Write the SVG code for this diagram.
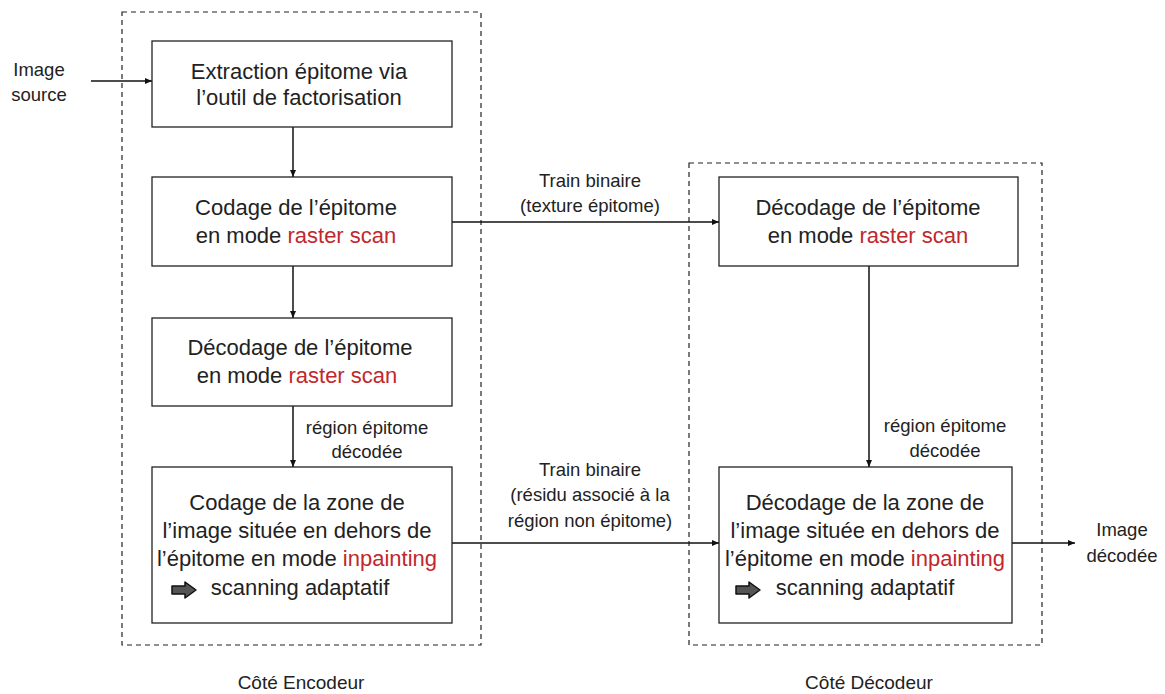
<svg xmlns="http://www.w3.org/2000/svg" width="1165" height="694" viewBox="0 0 1165 694">
<style>
text{font-family:"Liberation Sans",Arial,sans-serif;fill:#222}
.bt{font-size:22px;text-anchor:middle}
.lb{font-size:18.5px;text-anchor:middle}
.cap{font-size:19px;text-anchor:middle}
.red{fill:#c0282d}
.box{fill:#fff;stroke:#222;stroke-width:1.3}
.dash{fill:none;stroke:#222;stroke-width:1.2;stroke-dasharray:5,4}
.con{fill:none;stroke:#111;stroke-width:1.5;marker-end:url(#ah)}
.ico{fill:#555;stroke:#111;stroke-width:1.5;stroke-linejoin:round}
</style>
<defs>
<marker id="ah" markerWidth="8" markerHeight="8" refX="7" refY="4" orient="auto" markerUnits="userSpaceOnUse">
<path d="M0,1 L7,4 L0,7 Z" fill="#111"/>
</marker>
</defs>
<rect width="1165" height="694" fill="#fff"/>
<g id="encoder-zone">
<rect class="dash" x="122" y="12" width="359" height="633"/>
<text class="cap" x="301" y="689">Côté Encodeur</text>
</g>
<g id="decoder-zone">
<rect class="dash" x="689" y="163" width="353" height="482"/>
<text class="cap" x="869" y="689">Côté Décodeur</text>
</g>
<g id="connectors">
<line class="con" x1="91" y1="81" x2="152" y2="81"/>
<line class="con" x1="293" y1="127" x2="293" y2="177"/>
<line class="con" x1="293" y1="266" x2="293" y2="318"/>
<line class="con" x1="293" y1="406" x2="293" y2="467"/>
<line class="con" x1="452" y1="222" x2="719" y2="222"/>
<line class="con" x1="452" y1="543" x2="719" y2="543"/>
<line class="con" x1="869" y1="266" x2="869" y2="467"/>
<line class="con" x1="1012" y1="543" x2="1075" y2="543"/>
<text class="lb" x="590" y="187">Train binaire</text>
<text class="lb" x="590" y="212">(texture épitome)</text>
<text class="lb" x="367" y="434">région épitome</text>
<text class="lb" x="367" y="458">décodée</text>
<text class="lb" x="945" y="432">région épitome</text>
<text class="lb" x="945" y="457">décodée</text>
<text class="lb" x="590" y="476">Train binaire</text>
<text class="lb" x="590" y="501">(résidu associé à la</text>
<text class="lb" x="590" y="527">région non épitome)</text>
</g>
<g id="image-source">
<text class="lb" x="39" y="76">Image</text>
<text class="lb" x="39" y="101">source</text>
</g>
<g id="image-decodee">
<text class="lb" x="1122" y="536">Image</text>
<text class="lb" x="1122" y="562">décodée</text>
</g>
<g id="enc-extraction">
<rect class="box" x="152" y="41" width="300" height="86"/>
<text class="bt" x="299" y="79">Extraction épitome via</text>
<text class="bt" x="299" y="105">l’outil de factorisation</text>
</g>
<g id="enc-codage-epitome">
<rect class="box" x="152" y="177" width="300" height="89"/>
<text class="bt" x="296" y="215">Codage de l’épitome</text>
<text class="bt" x="296" y="243">en mode <tspan class="red">raster scan</tspan></text>
</g>
<g id="enc-decodage-epitome">
<rect class="box" x="152" y="318" width="300" height="88"/>
<text class="bt" x="300" y="355">Décodage de l’épitome</text>
<text class="bt" x="297" y="383">en mode <tspan class="red">raster scan</tspan></text>
</g>
<g id="enc-codage-zone">
<rect class="box" x="152" y="467" width="300" height="156"/>
<text class="bt" x="297" y="510">Codage de la zone de</text>
<text class="bt" x="297" y="538">l’image située en dehors de</text>
<text class="bt" x="297" y="566">l’épitome en mode <tspan class="red">inpainting</tspan></text>
<path class="ico" d="M172,586 H185 V582 L196,590 L185,598 V594 H172 Z"/>
<text class="bt" x="300" y="595">scanning adaptatif</text>
</g>
<g id="dec-decodage-epitome">
<rect class="box" x="719" y="177" width="299" height="89"/>
<text class="bt" x="868" y="215">Décodage de l’épitome</text>
<text class="bt" x="868" y="243">en mode <tspan class="red">raster scan</tspan></text>
</g>
<g id="dec-decodage-zone">
<rect class="box" x="719" y="467" width="293" height="156"/>
<text class="bt" x="865" y="510">Décodage de la zone de</text>
<text class="bt" x="865" y="538">l’image située en dehors de</text>
<text class="bt" x="865" y="566">l’épitome en mode <tspan class="red">inpainting</tspan></text>
<path class="ico" d="M736,586 H749 V582 L760,590 L749,598 V594 H736 Z"/>
<text class="bt" x="865" y="595">scanning adaptatif</text>
</g>
</svg>
